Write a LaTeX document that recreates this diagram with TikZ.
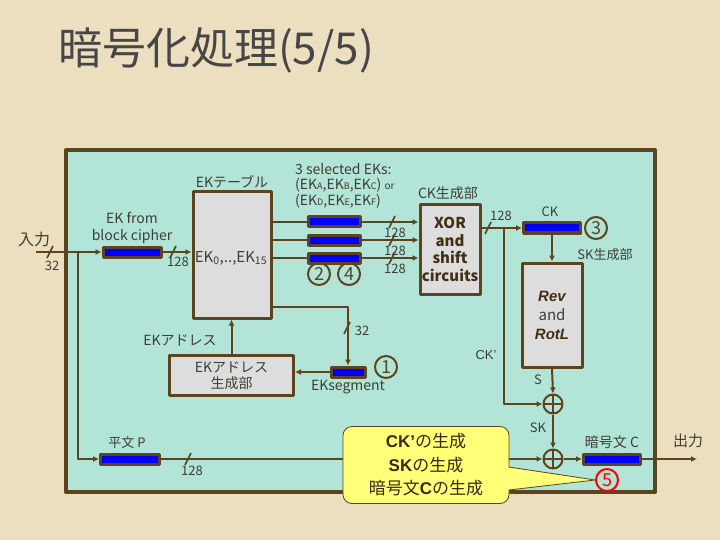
\documentclass[tikz,border=0pt]{standalone}
\usepackage{fontspec}
\setmainfont{Noto Sans CJK JP}
\newfontfamily\rotfont{Liberation Sans}
\usetikzlibrary{arrows.meta}
\definecolor{paper}{RGB}{236,223,192}
\definecolor{panelbg}{RGB}{178,228,216}
\definecolor{wirebrn}{RGB}{94,68,30}
\definecolor{boxgray}{RGB}{221,221,221}
\definecolor{lbltxt}{RGB}{62,62,52}
\definecolor{titletxt}{RGB}{70,70,70}
\definecolor{noteyel}{RGB}{255,255,120}
\definecolor{regblue}{RGB}{0,0,255}
\newcommand{\eksub}[1]{{\fontsize{9}{9}\selectfont #1}}

\begin{document}
\begin{tikzpicture}[x=1pt,y=-1pt,line join=round,
    reg/.style={draw=wirebrn,line width=3pt,fill=regblue,minimum height=10pt,inner sep=0pt},
    blk/.style={draw=wirebrn,line width=3pt,fill=boxgray,inner sep=0pt,text=lbltxt},
    wire/.style={draw=wirebrn,line width=2pt},
    arr/.style={wire,-{Latex[length=6pt,width=6pt]}},
    lbl/.style={text=lbltxt,inner sep=0pt,font=\fontsize{13}{15}\selectfont},
    numc/.style={circle,draw=wirebrn,line width=2pt,minimum size=22pt,inner sep=0pt,
      text=wirebrn,font=\fontsize{18}{18}\selectfont},
    xorop/.style={circle,draw=wirebrn,line width=2pt,minimum size=19pt,inner sep=0pt,
      path picture={\draw[wirebrn,line width=2pt]
        (path picture bounding box.north) -- (path picture bounding box.south)
        (path picture bounding box.west) -- (path picture bounding box.east);}},
    busmark/.pic={\draw[wirebrn,line width=1.6pt] (-3,6) -- (3,-6);}]
  \fill[paper] (0,0) rectangle (720,540);
  \useasboundingbox (0,0) rectangle (720,540);
  \node[text=titletxt,inner sep=0pt,font=\fontsize{44}{44}\selectfont] (title) at (216,50) {暗号化処理(5/5)};
  \draw[wirebrn,line width=4pt,fill=panelbg] (66,150) rectangle (655,492);

  % EK table and input
  \node[blk,minimum width=78pt,minimum height=126pt] (ektab) at (232,255) {};
  \node[lbl,font=\fontsize{14}{14}\selectfont] (ektabl) at (232,182) {EKテーブル};
  \node[lbl,font=\fontsize{15}{15}\selectfont] (ekrange) at (231,258) {EK\textsubscript{0},..,EK\textsubscript{15}};
  \node[reg,minimum width=58pt] (ekbc) at (132,252) {};
  \node[lbl,align=center,font=\fontsize{14}{17}\selectfont] (ekbcl) at (132,228) {EK from\\block cipher};
  \coordinate (in) at (36,252);
  \coordinate (inbr) at (78,252);
  \node[lbl,font=\fontsize{16}{16}\selectfont] (inl) at (34,239) {入力};
  \node[lbl] (in32) at (52,266) {32};

  % selected EKs and CK generation
  \foreach \n/\y in {1/222,2/240,3/258}
    \node[reg,minimum width=52pt] (sel\n) at (334.5,\y) {};
  \node[lbl,anchor=north west,align=left,font=\fontsize{14}{15.5}\selectfont] (selbl) at (295,163)
    {3 selected EKs:\\(EK\eksub{A},EK\eksub{B},EK\eksub{C}) {\fontsize{10}{10}\selectfont or}\\(EK\eksub{D},EK\eksub{E},EK\eksub{F})};
  \node[numc] (n2) at (319,274) {2};
  \node[numc] (n4) at (349,274) {4};
  \node[blk,minimum width=60pt,minimum height=89pt,align=center,text=wirebrn!70!black,
    font=\bfseries\fontsize{15}{17.5}\selectfont] (xorsh) at (450,249.5) {XOR\\and\\shift\\circuits};
  \node[lbl,font=\fontsize{14}{14}\selectfont] (ckgenl) at (448,193) {CK生成部};

  % SK generation
  \node[reg,minimum width=57pt] (ckreg) at (552,228) {};
  \node[lbl] (ckl) at (550,212) {CK};
  \node[numc] (n3) at (596,228) {3};
  \node[lbl] (skgenl) at (605,255) {SK生成部};
  \node[blk,minimum width=60pt,minimum height=104pt,align=center,text=wirebrn!70!black,
    font=\fontsize{15}{19}\selectfont] (rev) at (552,315)
    {{\rotfont\bfseries\itshape Rev}\\{\color{lbltxt}and}\\{\rotfont\bfseries\itshape RotL}};
  \node[xorop] (xa) at (553,404) {};
  \node[xorop] (xb) at (553,459) {};
  \node[lbl] (sl) at (538,380) {S};
  \node[lbl] (skl) at (538,428) {SK};
  \node[lbl] (ckpl) at (486,355) {{\rotfont CK’}};
  \coordinate (ckbr) at (504,228);

  % plaintext, ciphertext
  \node[reg,minimum width=59pt] (ptreg) at (130,459) {};
  \node[lbl] (ptl) at (127,443) {平文 P};
  \node[reg,minimum width=57pt] (ctreg) at (612,459) {};
  \node[lbl,font=\fontsize{14}{14}\selectfont] (ctl) at (612,442) {暗号文 C};
  \coordinate (out) at (697,459);
  \node[lbl,font=\fontsize{15}{15}\selectfont] (outl) at (688,441) {出力};

  % EK address
  \node[blk,minimum width=124pt,minimum height=40pt,align=center,
    font=\fontsize{14}{16}\selectfont] (ekagen) at (231.5,375.5) {EKアドレス\\生成部};
  \node[lbl,font=\fontsize{14}{14}\selectfont] (ekal) at (180,340) {EKアドレス};
  \node[reg,minimum width=34pt] (seg) at (348,372) {};
  \node[numc] (n1) at (386,367) {1};
  \node[lbl,font=\fontsize{14}{14}\selectfont] (segl) at (348,387) {EKsegment};

  % wires
  \draw[arr] (in) -- (ekbc.west);
  \draw[arr] (ekbc.east) -- (ekbc.east -| ektab.west);
  \draw[arr] (inbr) |- (ptreg.west);
  \foreach \n in {1,2,3} {
    \draw[wire] (sel\n.west -| ektab.east) -- (sel\n.west);
    \draw[arr] (sel\n.east) -- (sel\n.east -| xorsh.west);
  }
  \draw[arr] (xorsh.east |- ckreg) -- (ckreg.west);
  \draw[arr] (ckbr) |- (xa.west);
  \draw[arr] (ckreg.south) -- (rev.north);
  \draw[arr] (rev.south) -- (xa.north);
  \draw[arr] (xa.south) -- (xb.north);
  \draw[arr] (ptreg.east) -- (xb.west);
  \draw[arr] (xb.east) -- (ctreg.west);
  \draw[arr] (ctreg.east) -- (out);
  \draw[arr] (ekagen.north) -- (ekagen.north |- ektab.south);
  \draw[arr] ([yshift=-52pt]ektab.east) -| (seg.north);
  \draw[arr] (seg.west) -- (seg.west -| ekagen.east);

  % bus widths
  \pic at (50,252) {busmark};
  \pic at (173,252) {busmark};
  \node[lbl] (bc128) at (178,262) {128};
  \foreach \n/\y in {1/222,2/240,3/258} {
    \pic at (392,\y) {busmark};
    \node[lbl] (w128\n) at (395,\y+11) {128};
  }
  \pic at (488,228) {busmark};
  \node[lbl] (ck128) at (501,216) {128};
  \pic at (347,328) {busmark};
  \node[lbl] (seg32) at (362,331) {32};
  \pic at (188,459) {busmark};
  \node[lbl] (pt128) at (192,471) {128};

  % callout
  \node[draw=wirebrn,line width=0.8pt,fill=noteyel,rounded corners=9pt,minimum width=166pt,
    minimum height=77pt,align=center,text=wirebrn!60!black,font=\fontsize{17}{23.5}\selectfont]
    (note) at (426,465) {{\bfseries\rotfont CK’}の生成\\{\bfseries\rotfont SK}の生成\\暗号文{\bfseries\rotfont C}の生成};
  \node[numc,draw=red,text=red] (n5) at (607,480) {5};
  \fill[noteyel] (505,467) -- (n5.west) -- (505,490) -- cycle;
  \draw[wirebrn,line width=0.8pt] (509,467) -- (n5.west) -- (509,490);
\end{tikzpicture}
\end{document}
